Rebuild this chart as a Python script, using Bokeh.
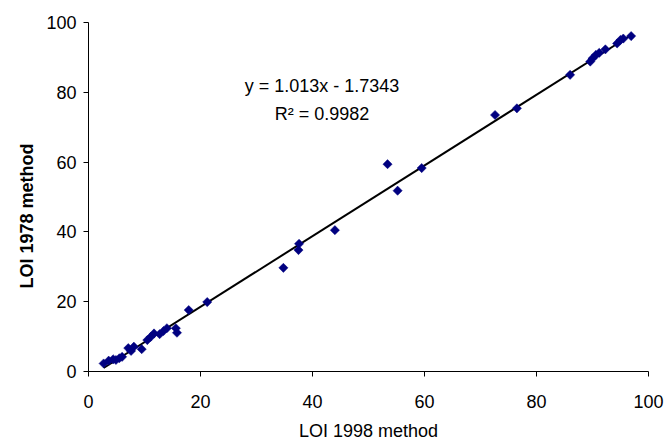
from bokeh.plotting import figure
from bokeh.models import Range1d, Label, FixedTicker, ColumnDataSource, Title
from bokeh.embed import file_html
from bokeh.resources import INLINE
import math

# LOI values (1998 method vs 1978 method)
loi_1998 = [2.7, 3.6, 4.4, 4.9, 5.5, 6.0, 7.1, 7.6, 8.1, 9.5, 10.5, 11.1, 11.7,
            12.7, 13.4, 14.0, 15.6, 15.8, 17.9, 21.2, 34.8, 37.5, 37.6, 44.0,
            53.4, 55.2, 59.5, 72.6, 76.5, 86.0, 89.6, 90.0, 90.6, 91.2, 92.3,
            94.4, 95.0, 95.5, 96.9]
loi_1978 = [2.3, 3.1, 3.5, 3.3, 3.8, 4.2, 6.7, 5.9, 7.1, 6.4, 9.0, 9.9, 10.9,
            10.7, 11.6, 12.4, 12.4, 11.1, 17.6, 19.9, 29.7, 34.8, 36.6, 40.5,
            59.4, 51.8, 58.3, 73.5, 75.4, 85.0, 88.8, 89.7, 90.7, 91.3, 92.3,
            94.0, 95.0, 95.4, 96.1]

slope = 1.013
intercept = -1.7343
r_squared = 0.9982
ticks = [0, 20, 40, 60, 80, 100]

FONT = "Liberation Sans"
FS = "18px"

p = figure(width=666, height=446, output_backend="svg", toolbar_location=None,
           x_range=Range1d(0, 100), y_range=Range1d(0, 100),
           min_border_left=88, min_border_right=18, min_border_top=22,
           min_border_bottom=75)
p.outline_line_color = None
p.xgrid.visible = False
p.ygrid.visible = False
p.background_fill_color = "white"
p.border_fill_color = "white"

for ax in (p.xaxis[0], p.yaxis[0]):
    ax.ticker = FixedTicker(ticks=ticks)
    ax.axis_line_color = "black"
    ax.axis_line_width = 1
    ax.major_tick_line_color = "black"
    ax.major_tick_out = 5
    ax.major_tick_in = 0
    ax.minor_tick_line_color = None
    ax.major_label_text_font = FONT
    ax.major_label_text_font_size = FS
    ax.major_label_text_color = "black"
    ax.axis_label_text_font = FONT
    ax.axis_label_text_font_size = FS
    ax.axis_label_text_color = "black"

p.xaxis.axis_label = "LOI 1998 method"
p.xaxis.axis_label_text_font_style = "normal"
p.xaxis.major_label_standoff = 18
p.xaxis.axis_label_standoff = 10
p.yaxis.major_label_standoff = 7

# y axis title as a left-side title, placed a little below the frame centre
ytitle = Title(text="LOI 1978 method", align="left", offset=83,
               text_font=FONT, text_font_size=FS, text_font_style="bold",
               text_color="black", standoff=13)
p.add_layout(ytitle, "left")

# trendline
x0, x1 = min(loi_1998), max(loi_1998)
p.line([x0, x1], [slope * x0 + intercept, slope * x1 + intercept],
       line_color="black", line_width=2)

src = ColumnDataSource(dict(x=loi_1998, y=loi_1978))
p.scatter("x", "y", source=src, marker="square", size=6.5, angle=math.pi / 4,
          fill_color="#000080", line_color="#000080", line_width=0.5)

eq = Label(x=41.7, y=81.9, text=f"y = {slope}x - {abs(intercept)}",
           text_font=FONT, text_font_size=FS, text_align="center",
           text_baseline="middle", text_color="black")
r2 = Label(x=41.7, y=73.9, text=f"R\u00b2 = {r_squared}",
           text_font=FONT, text_font_size=FS, text_align="center",
           text_baseline="middle", text_color="black")
p.add_layout(eq)
p.add_layout(r2)

open("out.html", "w").write(file_html(p, INLINE))
